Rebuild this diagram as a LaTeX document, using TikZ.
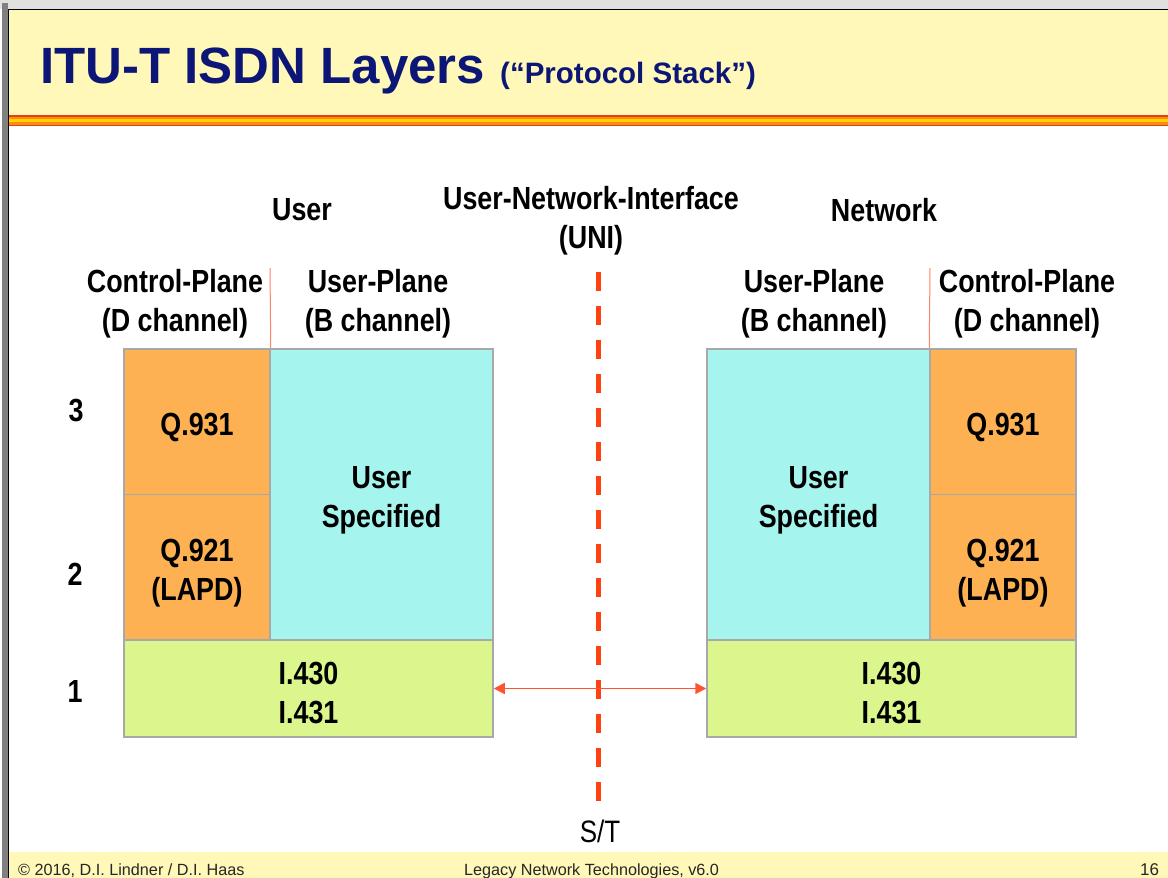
\documentclass[tikz,border=0pt]{standalone}
\usepackage{fontspec}
\setmainfont{Liberation Sans}
\newfontfamily\narrowfont[FakeStretch=0.84]{Liberation Sans}
\usetikzlibrary{arrows.meta}

\definecolor{titleblue}{HTML}{0B1677}
\definecolor{bandyellow}{HTML}{FFF8B8}
\definecolor{qorange}{HTML}{FDB152}
\definecolor{ucyan}{HTML}{A6F4EE}
\definecolor{lgreen}{HTML}{DAF68C}
\definecolor{boxgray}{HTML}{A8A8A8}
\definecolor{unired}{HTML}{FF4010}
\definecolor{thinred}{HTML}{FF8466}
\definecolor{arrowred}{HTML}{FF5432}
\definecolor{stripered}{HTML}{E0401C}
\definecolor{stripeorange}{HTML}{FF8A10}
\definecolor{stripeyellow}{HTML}{FFD400}
% strut that lowers box texts a little inside their boxes
\newcommand\boxstrut{\rule{0pt}{34pt}}

\begin{document}
\begin{tikzpicture}[x=1pt,y=-1pt,
  lbl/.style={font=\narrowfont\bfseries\fontsize{32}{39}\selectfont, align=center, inner sep=0pt},
  layerbox/.style={draw=boxgray, line width=1.5pt, inner sep=0pt, align=center,
     font=\narrowfont\bfseries\fontsize{32}{39}\selectfont},
  ctrlbox/.style={layerbox, fill=qorange, minimum width=146pt, minimum height=145.5pt},
  userbox/.style={layerbox, fill=ucyan, minimum width=223pt, minimum height=291pt},
  physbox/.style={layerbox, fill=lgreen, minimum width=369pt, minimum height=97pt},
  thinline/.style={draw=thinred, line width=1pt},
  footer/.style={font=\fontsize{16.2}{18}\selectfont, anchor=base west, inner sep=0pt, text=black!85}
]
\useasboundingbox (0,0) rectangle (1168,878);
\fill[white] (0,0) rectangle (1168,878);

% slide frame
\fill[black!12] (0,0) rectangle (1168,9);
\fill[black!50] (2,3) rectangle (8,878);
\fill[bandyellow] (9,10) rectangle (1168,115);
\fill[stripered] (9,115) rectangle (1168,126);
\fill[stripeorange] (9,116.5) rectangle (1168,124.5);
\fill[stripeyellow] (9,119) rectangle (1168,122);
\fill[bandyellow] (9,852) rectangle (1168,878);
\draw[black, line width=1.5pt] (8.5,878) -- (8.5,9.5) -- (1168,9.5);

% title
\node[anchor=base west, inner sep=0pt, text=titleblue, font=\bfseries\fontsize{51}{51}\selectfont] (title) at (40,83) {ITU-T ISDN Layers};
\node[anchor=base west, inner sep=0pt, text=titleblue, font=\bfseries\fontsize{29.5}{30}\selectfont] (subtitle) at (500,83) {(“Protocol Stack”)};

% headings
\node[lbl] (userhd) at (302,210) {User};
\node[lbl] (unihd) at (591,221) {User-Network-Interface\\(UNI)};
\node[lbl] (nethd) at (884,210) {Network};

\node[lbl] (cpL) at (175,304) {Control-Plane\\(D channel)};
\node[lbl] (upL) at (378,304) {User-Plane\\(B channel)};
\node[lbl] (upR) at (814,304) {User-Plane\\(B channel)};
\node[lbl] (cpR) at (1027,304) {Control-Plane\\(D channel)};

% layer numbers
\node[lbl] (n3) at (76,411) {3};
\node[lbl] (n2) at (75,574) {2};
\node[lbl] (n1) at (75,691) {1};

% left stack
\node[ctrlbox] (q931L) at (197,421.75) {\boxstrut Q.931};
\node[ctrlbox] (q921L) at (197,567.25) {\boxstrut Q.921\\(LAPD)};
\node[userbox] (usrL) at (381.5,494.5) {\boxstrut User\\Specified};
\node[physbox] (phyL) at (308.5,688.5) {\rule{0pt}{32pt}I.430\\I.431};

% right stack
\node[userbox] (usrR) at (818.5,494.5) {\boxstrut User\\Specified};
\node[ctrlbox] (q931R) at (1003,421.75) {\boxstrut Q.931};
\node[ctrlbox] (q921R) at (1003,567.25) {\boxstrut Q.921\\(LAPD)};
\node[physbox] (phyR) at (891.5,688.5) {\rule{0pt}{32pt}I.430\\I.431};

% thin plane separators
\coordinate (sepLtop) at (270,268);
\coordinate (sepRtop) at (930,268);
\draw[thinline] (sepLtop) -- (q931L.north east);
\draw[thinline] (sepRtop) -- (q931R.north west);

% UNI reference line
\coordinate (uniTop) at (598,272);
\coordinate (uniBot) at (598,801);
\draw[unired, line width=5pt, dash pattern=on 19pt off 15pt] (uniTop) -- (uniBot);
\node[font=\narrowfont\fontsize{31}{36}\selectfont, anchor=base, inner sep=0pt] (st) at (600,842) {S/T};

% physical connection arrow
\draw[arrowred, line width=1.5pt, {Triangle[length=11pt,width=11pt]}-{Triangle[length=11pt,width=11pt]}] (phyL.east) -- (phyR.west);

% footer
\node[footer] (copy) at (18,875) {© 2016, D.I. Lindner / D.I. Haas};
\node[footer] (course) at (464,875) {Legacy Network Technologies, v6.0};
\node[footer, font=\fontsize{17}{20}\selectfont] (page) at (1140,875) {16};
\end{tikzpicture}
\end{document}
